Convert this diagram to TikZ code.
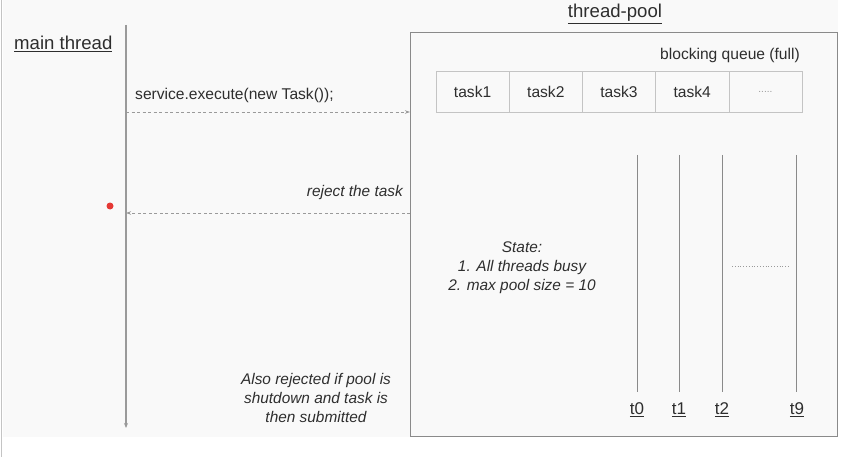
\documentclass[tikz,border=0pt]{standalone}
\usepackage{fontspec}
\setmainfont{Liberation Sans}
\usetikzlibrary{positioning,arrows.meta}
\definecolor{bgcol}{HTML}{F9F9F9}
\definecolor{textgray}{HTML}{2E2E2E}
\definecolor{linegray}{HTML}{9A9A9A}
\definecolor{boxgray}{HTML}{8A8A8A}
\definecolor{cellgray}{HTML}{C4C4C4}
\definecolor{dotred}{HTML}{E53935}

\begin{document}
\begin{tikzpicture}[
            x=1pt, y=-1pt,
            txt/.style={text=textgray, font=\fontsize{15.6}{19}\selectfont, inner sep=0pt},
            note/.style={txt, font=\fontsize{15.4}{19}\selectfont\itshape, align=center},
            title/.style={text=textgray, font=\fontsize{18.6}{22}\selectfont, inner sep=0pt},
            cell/.style={rectangle, draw=cellgray, minimum width=73.2pt, minimum height=41pt, outer sep=0pt, txt},
            life/.style={draw=linegray, line width=1.2pt},
            thread/.style={draw=boxgray, line width=0.9pt},
            call/.style={draw=linegray, dash pattern=on 3pt off 2.5pt, line width=0.8pt, -{Stealth[length=5pt,width=3.5pt]}}
        ]
        \useasboundingbox (0,0) rectangle (845,457);
        \fill[bgcol] (3,0) rectangle (838,437);
        \draw[cellgray, line width=0.8pt] (1,0) -- (1,457);

        % main thread side
        \node[title, anchor=west] (main) at (14,44) {\underline{main thread}};
        \coordinate (mtop) at (126,25);
        \coordinate (mbot) at (126,428);
        \draw[life, -{Stealth[length=5pt,width=4pt]}] (mtop) -- (mbot);
        \node[txt, anchor=west] (exec) at (135,95) {service.execute(new Task());};
        \node[note, anchor=east] (reject) at (403,193) {reject the task};
        \node[circle, fill=dotred, minimum size=7pt, inner sep=0pt] (dot) at (110,206) {};
        \node[note] (also) at (316,398) {Also rejected if pool is\\shutdown and task is\\then submitted};

        % thread pool
        \node[title] (pooltitle) at (615,14) {\underline{thread-pool}};
        \node[draw=boxgray, line width=0.8pt, minimum width=427pt, minimum height=404pt, inner sep=0pt, outer sep=0pt, anchor=north west] (pool) at (410,32) {};
        \node[txt, anchor=east] (bq) at (800,55) {blocking queue (full)};
        \node[cell, anchor=north west] (q1) at (436,71) {task1};
        \node[cell, right=0pt of q1] (q2) {task2};
        \node[cell, right=0pt of q2] (q3) {task3};
        \node[cell, right=0pt of q3] (q4) {task4};
        \node[cell, right=0pt of q4, font=\fontsize{10}{12}\selectfont, text=linegray] (q5) {.....};
        \node[note] (state) at (522,268) {State:\\1. All threads busy\\2. max pool size = 10};

        % worker threads
        \node[txt, font=\fontsize{17}{19}\selectfont] (t0) at (637,410) {\underline{t0}};
        \node[txt, font=\fontsize{17}{19}\selectfont] (t1) at (679,410) {\underline{t1}};
        \node[txt, font=\fontsize{17}{19}\selectfont] (t2) at (722,410) {\underline{t2}};
        \node[txt, font=\fontsize{17}{19}\selectfont] (t9) at (797,410) {\underline{t9}};
        \coordinate (h0) at (637,155);
        \coordinate (h1) at (679,155);
        \coordinate (h2) at (722,155);
        \coordinate (h9) at (796,155);
        \draw[thread] (h0) -- (h0 |- 0,392);
        \draw[thread] (h1) -- (h1 |- 0,392);
        \draw[thread] (h2) -- (h2 |- 0,392);
        \draw[thread] (h9) -- (h9 |- 0,392);
        \coordinate (d1) at (732,266);
        \coordinate (d2) at (790,266);
        \draw[linegray, dotted, line width=0.8pt] (d1) -- (d2);

        % calls
        \coordinate (send) at (126,112);
        \coordinate (back) at (126,213);
        \draw[call] (send) -- (send -| pool.west);
        \draw[call] (back -| pool.west) -- (back);
        \end{tikzpicture}
\end{document}
